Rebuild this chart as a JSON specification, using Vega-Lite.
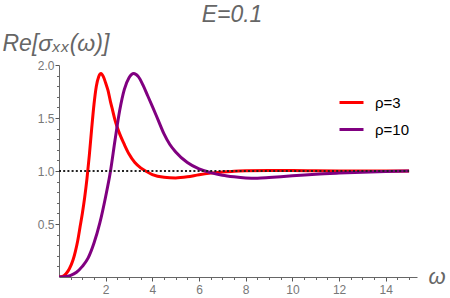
{
  "$schema": "https://vega.github.io/schema/vega-lite/v6.json",
  "width": 358,
  "height": 212,
  "autosize": {"type": "none"},
  "padding": {"left": 59, "top": 65, "right": 33, "bottom": 21},
  "background": "white",
  "config": {
    "view": {"stroke": null},
    "font": "Liberation Sans",
    "axis": {"grid": false, "domainColor": "#666", "tickColor": "#555", "labelColor": "#777", "labelFont": "Liberation Sans", "labelFontSize": 12}
  },
  "title": {
    "text": "E=0.1",
    "font": "Liberation Sans",
    "fontStyle": "italic",
    "fontWeight": "normal",
    "fontSize": 23,
    "color": "#666",
    "anchor": "middle",
    "frame": "group",
    "dx": -6,
    "dy": -1,
    "offset": 4
  },
  "datasets": {
    "curves": [
      {"w": 0, "v": 0, "s": "ρ=3"},
      {"w": 0.15, "v": 0.005, "s": "ρ=3"},
      {"w": 0.3, "v": 0.03, "s": "ρ=3"},
      {"w": 0.45, "v": 0.08, "s": "ρ=3"},
      {"w": 0.6, "v": 0.16, "s": "ρ=3"},
      {"w": 0.7, "v": 0.24, "s": "ρ=3"},
      {"w": 0.8, "v": 0.34, "s": "ρ=3"},
      {"w": 0.9, "v": 0.47, "s": "ρ=3"},
      {"w": 1.0, "v": 0.6, "s": "ρ=3"},
      {"w": 1.1, "v": 0.75, "s": "ρ=3"},
      {"w": 1.2, "v": 0.93, "s": "ρ=3"},
      {"w": 1.3, "v": 1.15, "s": "ρ=3"},
      {"w": 1.4, "v": 1.4, "s": "ρ=3"},
      {"w": 1.5, "v": 1.63, "s": "ρ=3"},
      {"w": 1.6, "v": 1.8, "s": "ρ=3"},
      {"w": 1.7, "v": 1.89, "s": "ρ=3"},
      {"w": 1.8, "v": 1.92, "s": "ρ=3"},
      {"w": 1.9, "v": 1.89, "s": "ρ=3"},
      {"w": 2.0, "v": 1.83, "s": "ρ=3"},
      {"w": 2.1, "v": 1.76, "s": "ρ=3"},
      {"w": 2.2, "v": 1.66, "s": "ρ=3"},
      {"w": 2.3, "v": 1.57, "s": "ρ=3"},
      {"w": 2.4, "v": 1.48, "s": "ρ=3"},
      {"w": 2.5, "v": 1.41, "s": "ρ=3"},
      {"w": 2.6, "v": 1.35, "s": "ρ=3"},
      {"w": 2.8, "v": 1.25, "s": "ρ=3"},
      {"w": 3.0, "v": 1.16, "s": "ρ=3"},
      {"w": 3.25, "v": 1.08, "s": "ρ=3"},
      {"w": 3.5, "v": 1.03, "s": "ρ=3"},
      {"w": 3.75, "v": 0.995, "s": "ρ=3"},
      {"w": 4.0, "v": 0.965, "s": "ρ=3"},
      {"w": 4.5, "v": 0.94, "s": "ρ=3"},
      {"w": 5.0, "v": 0.935, "s": "ρ=3"},
      {"w": 5.5, "v": 0.945, "s": "ρ=3"},
      {"w": 6.0, "v": 0.965, "s": "ρ=3"},
      {"w": 6.5, "v": 0.98, "s": "ρ=3"},
      {"w": 7.0, "v": 0.99, "s": "ρ=3"},
      {"w": 7.5, "v": 0.998, "s": "ρ=3"},
      {"w": 8.0, "v": 1.002, "s": "ρ=3"},
      {"w": 9.0, "v": 1.005, "s": "ρ=3"},
      {"w": 10.0, "v": 1.004, "s": "ρ=3"},
      {"w": 11.0, "v": 1.002, "s": "ρ=3"},
      {"w": 12.0, "v": 1.0, "s": "ρ=3"},
      {"w": 13.0, "v": 1.0, "s": "ρ=3"},
      {"w": 14.0, "v": 1.0, "s": "ρ=3"},
      {"w": 15.0, "v": 1.0, "s": "ρ=3"},
      {"w": 0, "v": 0, "s": "ρ=10"},
      {"w": 0.25, "v": 0.003, "s": "ρ=10"},
      {"w": 0.5, "v": 0.015, "s": "ρ=10"},
      {"w": 0.75, "v": 0.045, "s": "ρ=10"},
      {"w": 1.0, "v": 0.1, "s": "ρ=10"},
      {"w": 1.25, "v": 0.18, "s": "ρ=10"},
      {"w": 1.5, "v": 0.32, "s": "ρ=10"},
      {"w": 1.75, "v": 0.51, "s": "ρ=10"},
      {"w": 2.0, "v": 0.76, "s": "ρ=10"},
      {"w": 2.2, "v": 0.99, "s": "ρ=10"},
      {"w": 2.4, "v": 1.29, "s": "ρ=10"},
      {"w": 2.6, "v": 1.57, "s": "ρ=10"},
      {"w": 2.8, "v": 1.77, "s": "ρ=10"},
      {"w": 3.0, "v": 1.88, "s": "ρ=10"},
      {"w": 3.2, "v": 1.92, "s": "ρ=10"},
      {"w": 3.4, "v": 1.89, "s": "ρ=10"},
      {"w": 3.6, "v": 1.81, "s": "ρ=10"},
      {"w": 3.8, "v": 1.71, "s": "ρ=10"},
      {"w": 4.0, "v": 1.61, "s": "ρ=10"},
      {"w": 4.25, "v": 1.48, "s": "ρ=10"},
      {"w": 4.5, "v": 1.35, "s": "ρ=10"},
      {"w": 4.75, "v": 1.25, "s": "ρ=10"},
      {"w": 5.0, "v": 1.18, "s": "ρ=10"},
      {"w": 5.5, "v": 1.08, "s": "ρ=10"},
      {"w": 6.0, "v": 1.02, "s": "ρ=10"},
      {"w": 6.5, "v": 0.985, "s": "ρ=10"},
      {"w": 7.0, "v": 0.96, "s": "ρ=10"},
      {"w": 7.5, "v": 0.945, "s": "ρ=10"},
      {"w": 8.0, "v": 0.935, "s": "ρ=10"},
      {"w": 8.5, "v": 0.932, "s": "ρ=10"},
      {"w": 9.0, "v": 0.938, "s": "ρ=10"},
      {"w": 9.5, "v": 0.946, "s": "ρ=10"},
      {"w": 10.0, "v": 0.955, "s": "ρ=10"},
      {"w": 11.0, "v": 0.97, "s": "ρ=10"},
      {"w": 12.0, "v": 0.98, "s": "ρ=10"},
      {"w": 13.0, "v": 0.988, "s": "ρ=10"},
      {"w": 14.0, "v": 0.995, "s": "ρ=10"},
      {"w": 15.0, "v": 1.0, "s": "ρ=10"}
    ],
    "ref": [{"x": 0, "x2": 15, "y": 1}]
  },
  "resolve": {"axis": {"x": "independent", "y": "independent"}},
  "layer": [
    {
      "data": {"name": "curves"},
      "mark": {"type": "line", "strokeWidth": 3, "interpolate": "monotone", "clip": true},
      "encoding": {
        "x": {
          "field": "w", "type": "quantitative",
          "scale": {"domain": [0, 15.34], "nice": false, "zero": false},
          "axis": {
            "orient": "bottom",
            "values": [2, 4, 6, 8, 10, 12, 14],
            "ticks": true,
            "tickSize": 4,
            "labelPadding": 3,
            "labelFlush": false,
            "title": "ω",
            "titleFont": "Liberation Sans",
            "titleFontStyle": "italic",
            "titleFontWeight": "normal",
            "titleFontSize": 22,
            "titleColor": "#666",
            "titleAngle": 0,
            "titleAlign": "left",
            "titleBaseline": "alphabetic",
            "titleX": 369,
            "titleY": 6
          }
        },
        "y": {
          "field": "v", "type": "quantitative",
          "scale": {"domain": [0, 2.0], "nice": false, "zero": false},
          "axis": {
            "orient": "left",
            "values": [0.5, 1.0, 1.5, 2.0],
            "format": ".1f",
            "ticks": true,
            "tickSize": 4,
            "labelPadding": 1,
            "title": "Re[σₓₓ(ω)]",
            "titleFont": "Liberation Sans",
            "titleFontStyle": "italic",
            "titleFontWeight": "normal",
            "titleFontSize": 23,
            "titleColor": "#666",
            "titleAngle": 0,
            "titleAlign": "left",
            "titleBaseline": "alphabetic",
            "titleX": -57,
            "titleY": -15
          }
        },
        "color": {
          "field": "s", "type": "nominal",
          "scale": {"domain": ["ρ=3", "ρ=10"], "range": ["#ff0000", "#800080"]},
          "legend": {
            "orient": "none",
            "legendX": 279,
            "legendY": 24,
            "title": null,
            "padding": 0,
            "symbolType": "stroke",
            "symbolSize": 576,
            "symbolStrokeWidth": 3,
            "labelFont": "Liberation Sans",
            "labelFontSize": 15,
            "labelColor": "#000",
            "labelOffset": 10,
            "rowPadding": 5
          }
        }
      }
    },
    {
      "data": {"name": "ref"},
      "mark": {"type": "rule", "strokeWidth": 2, "strokeDash": [2, 2.2], "color": "#222"},
      "encoding": {
        "x": {
          "field": "x", "type": "quantitative",
          "axis": {
            "orient": "bottom",
            "values": [0.5, 1, 1.5, 2.5, 3, 3.5, 4.5, 5, 5.5, 6.5, 7, 7.5, 8.5, 9, 9.5, 10.5, 11, 11.5, 12.5, 13, 13.5, 14.5, 15],
            "ticks": true,
            "tickSize": 2.5,
            "tickColor": "#666",
            "labels": false,
            "domain": false,
            "title": null
          }
        },
        "x2": {"field": "x2"},
        "y": {
          "field": "y", "type": "quantitative",
          "axis": {
            "orient": "left",
            "values": [0.1, 0.2, 0.3, 0.4, 0.6, 0.7, 0.8, 0.9, 1.1, 1.2, 1.3, 1.4, 1.6, 1.7, 1.8, 1.9],
            "ticks": true,
            "tickSize": 2.5,
            "tickColor": "#666",
            "labels": false,
            "domain": false,
            "title": null
          }
        }
      }
    }
  ]
}
